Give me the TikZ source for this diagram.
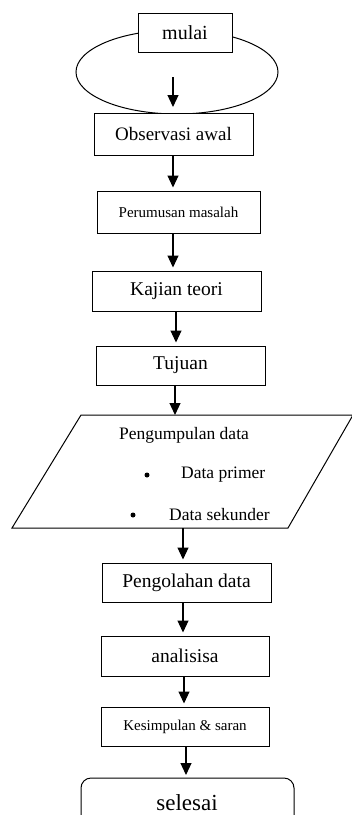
\documentclass[tikz,border=0pt]{standalone}
\usepackage{fontspec}
\setmainfont{Liberation Serif}
\usetikzlibrary{arrows.meta,shapes.geometric,calc}
\newcommand{\fs}[1]{\fontsize{#1}{#1}\selectfont}
\tikzset{
  box/.style={draw,line width=1pt,fill=white,inner sep=0pt,rectangle},
  arr/.style={line width=1.2pt,-{Triangle[width=11pt,length=12pt]},shorten >=3pt},
  txt/.style={inner sep=0pt,anchor=base}
}
\begin{document}
\begin{tikzpicture}[x=1pt,y=-1pt]
\useasboundingbox (0,0) rectangle (352,815);
\clip (0,0) rectangle (352,815);
% start
\node[draw,line width=1pt,ellipse,inner sep=0pt,minimum width=202pt,minimum height=84pt] (ell) at (177,72) {};
\node[box,minimum width=94pt,minimum height=39pt,font=\fs{20}] (mulai) at (185,32.5) {mulai};
\node[box,minimum width=159pt,minimum height=42pt,font=\fs{19}] (obs) at (173.5,134) {Observasi awal};
\node[box,minimum width=163pt,minimum height=42pt,font=\fs{15}] (rum) at (178.5,212) {Perumusan masalah};
\node[box,minimum width=169pt,minimum height=40pt,font=\fs{19.5}] (kaj) at (176.5,291) {Kajian teori};
\node[box,minimum width=169pt,minimum height=39pt,font=\fs{19.5}] (tuj) at (180.5,365.5) {Tujuan};
% parallelogram
\coordinate (ptl) at (81,415);
\coordinate (ptr) at (353,415);
\coordinate (pbr) at (288,528);
\coordinate (pbl) at (12,528);
\draw[line width=1pt] (ptl) -- (ptr) -- (pbr) -- (pbl) -- cycle;
\node[font=\fs{17.5},inner sep=0pt] (pk) at (184,435) {Pengumpulan data};
\node[font=\fs{17.5},inner sep=0pt,anchor=west] (dp) at (181,475) {Data primer};
\node[font=\fs{17.5},inner sep=0pt,anchor=west] (ds) at (169,515) {Data sekunder};
\fill (147,475) circle (2.5pt);
\fill (133,515) circle (2.5pt);
\node[box,minimum width=169pt,minimum height=39pt,font=\fs{19.5}] (olah) at (186.5,582.5) {Pengolahan data};
\node[box,minimum width=168pt,minimum height=40pt,font=\fs{19.5}] (ana) at (185,656) {analisisa};
\node[box,minimum width=168pt,minimum height=39pt,font=\fs{15}] (kes) at (185,726.5) {Kesimpulan \& saran};
\draw[line width=1pt,rounded corners=10pt] (81,778) rectangle (294,850);
\node[font=\fs{23},inner sep=0pt] (sel) at (187,803) {selesai};
% arrows
\coordinate (a0) at (173,77);
\draw[arr,shorten >=0pt] (a0) -- (a0 |- 0,107);
\draw[arr] (obs.south -| 173,0) -- (rum.north -| 173,0);
\draw[arr] (rum.south -| 173,0) -- (kaj.north -| 173,0);
\draw[arr] (kaj.south -| 176,0) -- (tuj.north -| 176,0);
\draw[arr,shorten >=0pt] (tuj.south -| 175,0) -- (ptl -| 175,0);
\draw[arr] (pbl -| 183,0) -- (olah.north -| 183,0);
\draw[arr] (olah.south -| 183,0) -- (ana.north -| 183,0);
\draw[arr] (ana.south -| 184,0) -- (kes.north -| 184,0);
\coordinate (selt) at (186,778);
\draw[arr] (kes.south -| 186,0) -- (selt);
\end{tikzpicture}
\end{document}
